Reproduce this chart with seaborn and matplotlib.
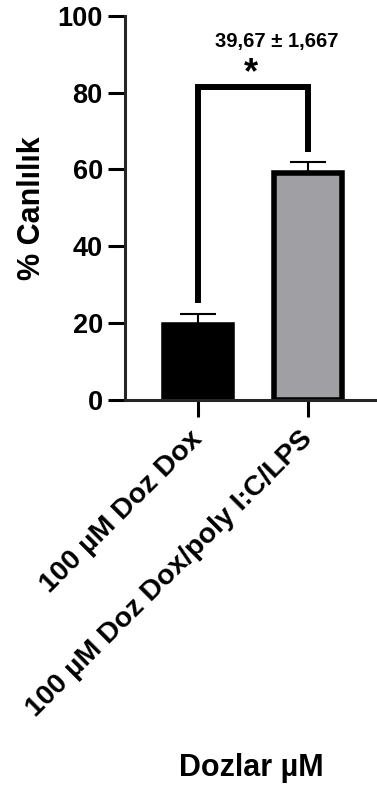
import pandas as pd
import matplotlib
matplotlib.use('Agg')
import matplotlib.pyplot as plt
import seaborn as sns

groups = ['100 µM Doz Dox', '100 µM Doz Dox/poly I:C/LPS']
viability = [19.5, 59.17]
sem = [2.8, 2.7]
bar_colors = ['#000000', '#A0A0A4']

# significance bracket (data units)
bracket_top = 81.4
bracket_feet = [25.2, 64.6]
diff_text = '39,67 ± 1,667'
star_y = 85.0
diff_y = 93.4

sns.set_style('ticks')
plt.rcParams['font.family'] = ['Liberation Sans', 'DejaVu Sans']
plt.rcParams['font.weight'] = 'bold'
plt.rcParams.update({'text.color': 'black', 'axes.labelcolor': 'black',
                     'xtick.color': 'black', 'ytick.color': 'black'})

df = pd.DataFrame({'group': groups, 'viability': viability})

fig = plt.figure(figsize=(3.77, 7.87), dpi=100)
ax = fig.add_axes([0.3316, 0.4917, 0.6684, 0.4883])

sns.barplot(data=df, x='group', y='viability', hue='group', palette=bar_colors,
            errorbar=None, width=0.62, edgecolor='black', linewidth=4,
            legend=False, ax=ax)

ax.errorbar(range(len(groups)), viability, yerr=[[0] * len(sem), sem], fmt='none',
            ecolor='black', elinewidth=1.5, capsize=13, capthick=1.5, zorder=1)

# bracket
ax.plot([0, 0, 1, 1], [bracket_feet[0], bracket_top, bracket_top, bracket_feet[1]],
        color='black', lw=4.3, solid_capstyle='butt', solid_joinstyle='miter', clip_on=False)
ax.text(0.48, star_y, '*', ha='center', va='center', fontsize=26, fontweight='bold')
ax.text(0.715, diff_y, diff_text, ha='center', va='center', fontsize=14.5, fontweight='bold')

ax.set_ylim(0, 100)
ax.set_xlim(-0.666, 1.625)
ax.set_yticks([0, 20, 40, 60, 80, 100])
sns.despine(ax=ax)
for s in ['left', 'bottom']:
    ax.spines[s].set_linewidth(2.2)
ax.tick_params(axis='both', width=2.2, length=12)
ax.tick_params(axis='y', labelsize=19.5, pad=4)
ax.tick_params(axis='x', labelsize=20.5, pad=13)
for lab in ax.get_yticklabels():
    lab.set_fontweight('bold')
for lab in ax.get_xticklabels():
    lab.set_fontweight('bold')
    lab.set_rotation(45)
    lab.set_ha('right')
    lab.set_va('center')
    lab.set_rotation_mode('anchor')

ax.set_ylabel('% Canlılık', fontsize=22, fontweight='bold')
ax.yaxis.set_label_coords(-0.308, 0.5)
ax.set_xlabel('Dozlar µM', fontsize=22, fontweight='bold')
ax.xaxis.set_label_coords(0.5, -0.918)

fig.savefig('out.png', dpi=100)
